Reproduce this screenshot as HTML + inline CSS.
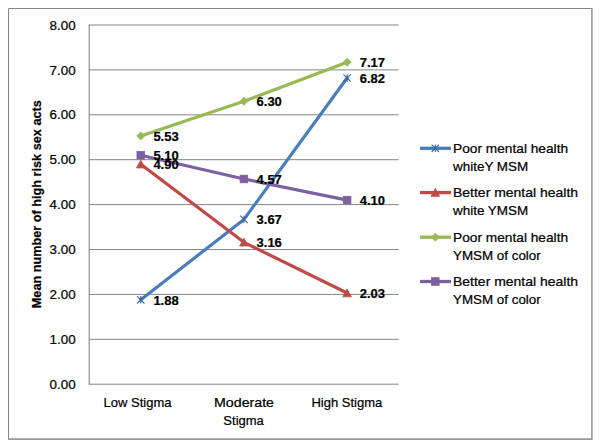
<!DOCTYPE html>
<html><head><meta charset="utf-8"><style>
html,body{margin:0;padding:0;background:#fff;}
svg{display:block;}
text{font-family:"Liberation Sans",sans-serif;stroke:#000;stroke-width:0.22px;}
</style></head><body>
<svg width="601" height="448" viewBox="0 0 601 448">
<rect x="0" y="0" width="601" height="448" fill="#fff"/>
<path d="M8.5,439V8.5H592" stroke="#858585" stroke-width="1" fill="none"/>
<path d="M591.9,8V439.1H8" stroke="#9a9a9a" stroke-width="1.6" fill="none"/>
<line x1="89.2" y1="384.20" x2="398.7" y2="384.20" stroke="#868686" stroke-width="1"/>
<line x1="89.2" y1="339.30" x2="398.7" y2="339.30" stroke="#868686" stroke-width="1"/>
<line x1="89.2" y1="294.40" x2="398.7" y2="294.40" stroke="#868686" stroke-width="1"/>
<line x1="89.2" y1="249.50" x2="398.7" y2="249.50" stroke="#868686" stroke-width="1"/>
<line x1="89.2" y1="204.60" x2="398.7" y2="204.60" stroke="#868686" stroke-width="1"/>
<line x1="89.2" y1="159.70" x2="398.7" y2="159.70" stroke="#868686" stroke-width="1"/>
<line x1="89.2" y1="114.80" x2="398.7" y2="114.80" stroke="#868686" stroke-width="1"/>
<line x1="89.2" y1="69.90" x2="398.7" y2="69.90" stroke="#868686" stroke-width="1"/>
<line x1="89.2" y1="25.00" x2="398.7" y2="25.00" stroke="#868686" stroke-width="1"/>
<line x1="89.2" y1="24.50" x2="89.2" y2="384.70" stroke="#868686" stroke-width="1.1"/>
<text x="75.6" y="388.80" font-family="Liberation Sans, sans-serif" font-size="13" text-anchor="end" textLength="26.1" lengthAdjust="spacingAndGlyphs" fill="#000">0.00</text>
<text x="75.6" y="343.90" font-family="Liberation Sans, sans-serif" font-size="13" text-anchor="end" textLength="26.1" lengthAdjust="spacingAndGlyphs" fill="#000">1.00</text>
<text x="75.6" y="299.00" font-family="Liberation Sans, sans-serif" font-size="13" text-anchor="end" textLength="26.1" lengthAdjust="spacingAndGlyphs" fill="#000">2.00</text>
<text x="75.6" y="254.10" font-family="Liberation Sans, sans-serif" font-size="13" text-anchor="end" textLength="26.1" lengthAdjust="spacingAndGlyphs" fill="#000">3.00</text>
<text x="75.6" y="209.20" font-family="Liberation Sans, sans-serif" font-size="13" text-anchor="end" textLength="26.1" lengthAdjust="spacingAndGlyphs" fill="#000">4.00</text>
<text x="75.6" y="164.30" font-family="Liberation Sans, sans-serif" font-size="13" text-anchor="end" textLength="26.1" lengthAdjust="spacingAndGlyphs" fill="#000">5.00</text>
<text x="75.6" y="119.40" font-family="Liberation Sans, sans-serif" font-size="13" text-anchor="end" textLength="26.1" lengthAdjust="spacingAndGlyphs" fill="#000">6.00</text>
<text x="75.6" y="74.50" font-family="Liberation Sans, sans-serif" font-size="13" text-anchor="end" textLength="26.1" lengthAdjust="spacingAndGlyphs" fill="#000">7.00</text>
<text x="75.6" y="29.60" font-family="Liberation Sans, sans-serif" font-size="13" text-anchor="end" textLength="26.1" lengthAdjust="spacingAndGlyphs" fill="#000">8.00</text>
<text transform="translate(41.4,204.2) rotate(-90)" font-family="Liberation Sans, sans-serif" font-size="13" font-weight="bold" text-anchor="middle" textLength="208" lengthAdjust="spacingAndGlyphs" fill="#000">Mean number of high risk sex acts</text>
<text x="137.5" y="406.9" font-family="Liberation Sans, sans-serif" font-size="13" text-anchor="middle" fill="#000">Low Stigma</text>
<text x="244" y="406.9" font-family="Liberation Sans, sans-serif" font-size="13" text-anchor="middle" textLength="60" lengthAdjust="spacingAndGlyphs" fill="#000">Moderate</text>
<text x="243.6" y="424.9" font-family="Liberation Sans, sans-serif" font-size="13" text-anchor="middle" fill="#000">Stigma</text>
<text x="346.8" y="406.9" font-family="Liberation Sans, sans-serif" font-size="13" text-anchor="middle" fill="#000">High Stigma</text>
<polyline points="140.78,299.79 243.95,219.42 347.12,77.98" fill="none" stroke="#4a7ebb" stroke-width="3.2" stroke-linejoin="round" stroke-linecap="round"/>
<path d="M137.08,296.09L144.48,303.49M144.48,296.09L137.08,303.49M140.78,296.09L140.78,303.49" stroke="#3d66a0" stroke-width="1.1" fill="none"/>
<path d="M240.25,215.72L247.65,223.12M247.65,215.72L240.25,223.12M243.95,215.72L243.95,223.12" stroke="#3d66a0" stroke-width="1.1" fill="none"/>
<path d="M343.42,74.28L350.82,81.68M350.82,74.28L343.42,81.68M347.12,74.28L347.12,81.68" stroke="#3d66a0" stroke-width="1.1" fill="none"/>
<polyline points="140.78,164.19 243.95,242.32 347.12,293.05" fill="none" stroke="#be4b48" stroke-width="3.2" stroke-linejoin="round" stroke-linecap="round"/>
<path d="M140.78,160.13L145.08,167.93L136.48,167.93Z" fill="#be4b48" stroke="#be4b48" stroke-width="0.8"/>
<path d="M243.95,238.26L248.25,246.06L239.65,246.06Z" fill="#be4b48" stroke="#be4b48" stroke-width="0.8"/>
<path d="M347.12,289.00L351.42,296.80L342.82,296.80Z" fill="#be4b48" stroke="#be4b48" stroke-width="0.8"/>
<polyline points="140.78,135.90 243.95,101.33 347.12,62.27" fill="none" stroke="#98b954" stroke-width="3.2" stroke-linejoin="round" stroke-linecap="round"/>
<path d="M140.78,131.90L144.78,135.90L140.78,139.90L136.78,135.90Z" fill="#98b954" stroke="#98b954" stroke-width="0.8"/>
<path d="M243.95,97.33L247.95,101.33L243.95,105.33L239.95,101.33Z" fill="#98b954" stroke="#98b954" stroke-width="0.8"/>
<path d="M347.12,58.27L351.12,62.27L347.12,66.27L343.12,62.27Z" fill="#98b954" stroke="#98b954" stroke-width="0.8"/>
<polyline points="140.78,155.21 243.95,179.01 347.12,200.11" fill="none" stroke="#7d60a0" stroke-width="3.2" stroke-linejoin="round" stroke-linecap="round"/>
<rect x="136.98" y="151.41" width="7.60" height="7.60" fill="#7d60a0" stroke="#7d60a0" stroke-width="0.8"/>
<rect x="240.15" y="175.21" width="7.60" height="7.60" fill="#7d60a0" stroke="#7d60a0" stroke-width="0.8"/>
<rect x="343.32" y="196.31" width="7.60" height="7.60" fill="#7d60a0" stroke="#7d60a0" stroke-width="0.8"/>
<text x="153.38" y="304.79" font-family="Liberation Sans, sans-serif" font-size="13" font-weight="bold" fill="#000">1.88</text>
<text x="256.55" y="224.42" font-family="Liberation Sans, sans-serif" font-size="13" font-weight="bold" fill="#000">3.67</text>
<text x="359.72" y="82.98" font-family="Liberation Sans, sans-serif" font-size="13" font-weight="bold" fill="#000">6.82</text>
<text x="153.38" y="169.19" font-family="Liberation Sans, sans-serif" font-size="13" font-weight="bold" fill="#000">4.90</text>
<text x="256.55" y="247.32" font-family="Liberation Sans, sans-serif" font-size="13" font-weight="bold" fill="#000">3.16</text>
<text x="359.72" y="298.05" font-family="Liberation Sans, sans-serif" font-size="13" font-weight="bold" fill="#000">2.03</text>
<text x="153.38" y="140.90" font-family="Liberation Sans, sans-serif" font-size="13" font-weight="bold" fill="#000">5.53</text>
<text x="256.55" y="106.33" font-family="Liberation Sans, sans-serif" font-size="13" font-weight="bold" fill="#000">6.30</text>
<text x="359.72" y="67.27" font-family="Liberation Sans, sans-serif" font-size="13" font-weight="bold" fill="#000">7.17</text>
<text x="153.38" y="160.21" font-family="Liberation Sans, sans-serif" font-size="13" font-weight="bold" fill="#000">5.10</text>
<text x="256.55" y="184.01" font-family="Liberation Sans, sans-serif" font-size="13" font-weight="bold" fill="#000">4.57</text>
<text x="359.72" y="205.11" font-family="Liberation Sans, sans-serif" font-size="13" font-weight="bold" fill="#000">4.10</text>
<line x1="420" y1="148.30" x2="451" y2="148.30" stroke="#4a7ebb" stroke-width="3.3"/>
<path d="M431.60,144.60L439.00,152.00M439.00,144.60L431.60,152.00M435.30,144.60L435.30,152.00" stroke="#3d66a0" stroke-width="1.1" fill="none"/>
<text x="453" y="152.70" font-family="Liberation Sans, sans-serif" font-size="13" textLength="115.1" lengthAdjust="spacingAndGlyphs" fill="#000">Poor mental health</text>
<text x="453" y="171.00" font-family="Liberation Sans, sans-serif" font-size="13" textLength="75.2" lengthAdjust="spacingAndGlyphs" fill="#000">whiteY MSM</text>
<line x1="420" y1="192.60" x2="451" y2="192.60" stroke="#be4b48" stroke-width="3.3"/>
<path d="M435.30,188.54L439.60,196.34L431.00,196.34Z" fill="#be4b48" stroke="#be4b48" stroke-width="0.8"/>
<text x="453" y="197.00" font-family="Liberation Sans, sans-serif" font-size="13" textLength="125.1" lengthAdjust="spacingAndGlyphs" fill="#000">Better mental health</text>
<text x="453" y="215.30" font-family="Liberation Sans, sans-serif" font-size="13" textLength="75.2" lengthAdjust="spacingAndGlyphs" fill="#000">white YMSM</text>
<line x1="420" y1="237.20" x2="451" y2="237.20" stroke="#98b954" stroke-width="3.3"/>
<path d="M435.30,233.20L439.30,237.20L435.30,241.20L431.30,237.20Z" fill="#98b954" stroke="#98b954" stroke-width="0.8"/>
<text x="453" y="241.60" font-family="Liberation Sans, sans-serif" font-size="13" textLength="115.1" lengthAdjust="spacingAndGlyphs" fill="#000">Poor mental health</text>
<text x="453" y="259.90" font-family="Liberation Sans, sans-serif" font-size="13" textLength="87.7" lengthAdjust="spacingAndGlyphs" fill="#000">YMSM of color</text>
<line x1="420" y1="281.50" x2="451" y2="281.50" stroke="#7d60a0" stroke-width="3.3"/>
<rect x="431.50" y="277.70" width="7.60" height="7.60" fill="#7d60a0" stroke="#7d60a0" stroke-width="0.8"/>
<text x="453" y="285.90" font-family="Liberation Sans, sans-serif" font-size="13" textLength="125.1" lengthAdjust="spacingAndGlyphs" fill="#000">Better mental health</text>
<text x="453" y="304.20" font-family="Liberation Sans, sans-serif" font-size="13" textLength="87.7" lengthAdjust="spacingAndGlyphs" fill="#000">YMSM of color</text>
</svg>
</body></html>
